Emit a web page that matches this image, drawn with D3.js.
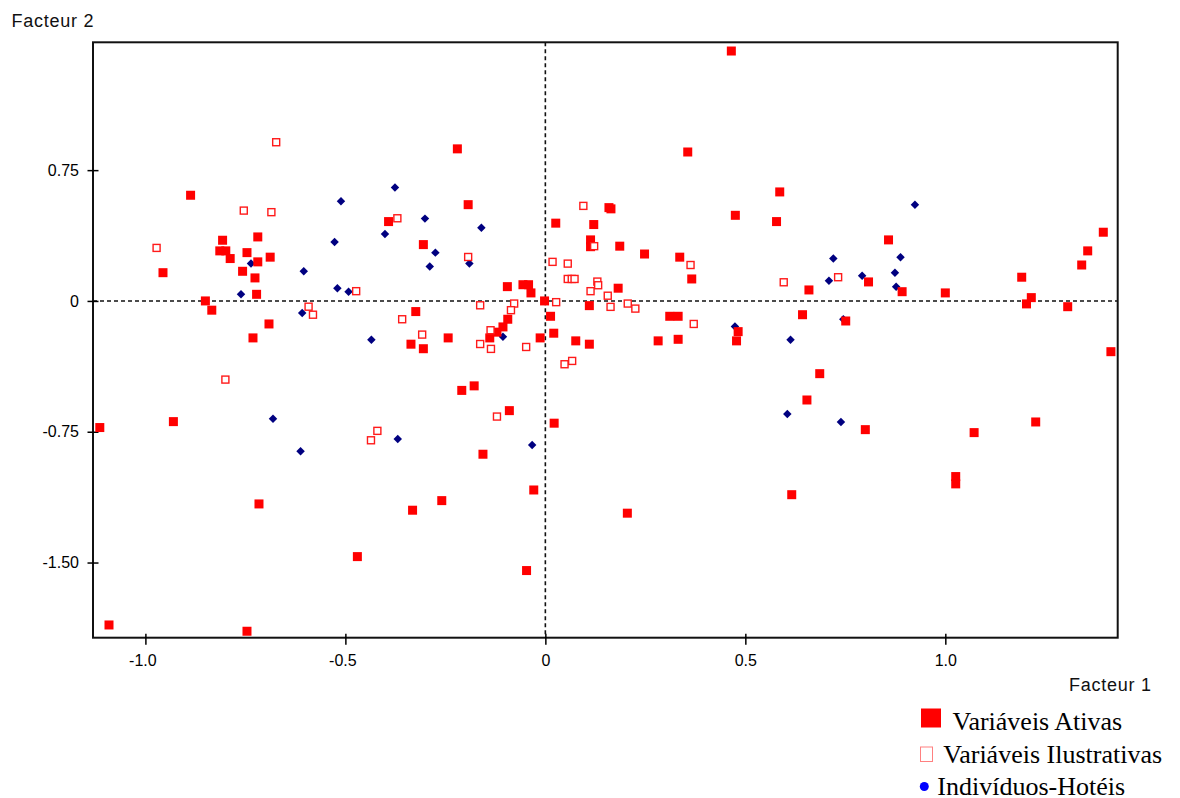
<!DOCTYPE html>
<html>
<head>
	<meta charset="utf-8">
	<title>Facteur 1 x Facteur 2</title>
	<script src="https://cdnjs.cloudflare.com/ajax/libs/d3/7.8.5/d3.min.js"></script>
	<style type="text/css">
		body {
			margin: 0;
			background: #fff;
		}
		.axis text {
			font-family: "Liberation Sans", Arial, sans-serif;
			font-size: 16px;
			fill: #000;
		}
		.axis line {
			stroke: #000;
			stroke-width: 1.5px;
		}
		.factor {
			font-family: "Liberation Sans", Arial, sans-serif;
			font-size: 18px;
			letter-spacing: 0.75px;
			fill: #111;
		}
		.legend text {
			font-family: "Liberation Serif", "Times New Roman", serif;
			font-size: 26px;
			fill: #000;
		}
	</style>
</head>
<body>
	<script type="text/javascript">
		// Variáveis Ativas (filled red squares)
		var ativasX = [-0.887, -0.807, -0.719, -0.814, -0.799, -0.746, -0.788, -0.688, -0.719, -0.956,
			-0.757, -0.726, -0.722, -0.850, -0.834, -0.691, -0.731, -0.220, -0.193, -0.392,
			-0.305, 0.026, -0.095, -0.056, -0.042, -0.036, -0.002, -0.324, -0.094, 0.013,
			-0.106, -0.121, -0.139, -0.336, -0.305, -0.243, -0.013, 0.021, -0.209, -0.178,
			0.356, 0.586, 0.159, 0.164, 0.475, 0.578, 0.121, 0.113, 0.113, 0.186,
			0.248, 0.336, 0.366, 0.182, 0.110, 0.659, 0.311, 0.332, 0.643, 0.482,
			0.478, 0.076, 0.110, 0.282, 0.332, 0.686, 0.858, 0.808, 0.892, 1.000,
			1.191, 1.215, 1.203, 1.306, 1.341, 1.356, 1.395, 1.414, 0.751, 0.654,
			0.022, 0.800, 1.072, 1.226, 1.026, 1.026, 0.616, 0.205, 0.465, -0.090,
			-1.114, -0.930, -0.156, -0.029, -0.716, -0.332, -0.259, -0.470, -0.047, -1.091,
			-0.746];
		var ativasY = [0.606, 0.348, 0.367, 0.287, 0.287, 0.277, 0.243, 0.251, 0.224, 0.162,
			0.170, 0.132, 0.038, 0.000, -0.053, -0.132, -0.212, 0.872, 0.552, 0.455,
			0.323, 0.446, 0.082, 0.093, 0.093, 0.046, 0.000, -0.061, -0.105, -0.088,
			-0.149, -0.179, -0.212, -0.248, -0.274, -0.212, -0.212, -0.185, -0.513, -0.487,
			0.854, 0.625, 0.535, 0.528, 0.491, 0.455, 0.438, 0.350, 0.311, 0.314,
			0.269, 0.251, 0.126, 0.073, -0.027, 0.063, -0.088, -0.088, -0.079, -0.176,
			-0.229, -0.229, -0.248, -0.229, -0.220, -0.417, 0.350, 0.109, 0.053, 0.046,
			0.136, 0.019, -0.017, -0.033, 0.206, 0.287, 0.394, -0.291, -0.115, -0.568,
			-0.701, -0.738, -0.755, -0.694, -1.007, -1.049, -1.111, -1.217, 1.433, -0.629,
			-0.726, -0.692, -0.879, -1.084, -1.164, -1.200, -1.145, -1.466, -1.546, -1.858,
			-1.894];

		// Variáveis Ilustrativas (open red squares)
		var ilustX = [-0.673, -0.754, -0.685, -0.972, -0.473, -0.592, -0.581, -0.800, -0.370, -0.193,
			0.018, -0.163, -0.078, 0.027, -0.358, -0.086, -0.137, -0.308, -0.163, -0.136,
			-0.048, 0.095, 0.122, 0.363, 0.056, 0.056, 0.066, 0.073, 0.130, 0.132,
			0.113, 0.156, 0.163, 0.206, 0.225, 0.596, 0.371, 0.048, 0.067, 0.732,
			-0.121, -0.420, -0.436];
		var ilustY = [0.910, 0.518, 0.509, 0.304, 0.056, -0.033, -0.079, -0.451, 0.474, 0.252,
			0.224, -0.025, -0.015, -0.007, -0.105, -0.053, -0.168, -0.193, -0.247, -0.275,
			-0.264, 0.545, 0.314, 0.206, 0.214, 0.126, 0.126, 0.126, 0.111, 0.090,
			0.056, 0.030, -0.034, -0.015, -0.044, 0.107, -0.132, -0.363, -0.344, 0.136,
			-0.663, -0.745, -0.799];

		// Indivíduos-Hotéis (navy diamonds)
		var hoteisX = [-0.511, -0.527, -0.736, -0.604, -0.520, -0.492, -0.761, -0.608, -0.435, -0.376,
			-0.301, -0.160, -0.401, -0.275, -0.289, -0.190, -0.106, 0.709, 0.720, 0.924,
			0.888, 0.792, 0.874, 0.877, 0.745, 0.474, 0.613, 0.605, 0.739, -0.681,
			-0.369, -0.612, -0.033];
		var hoteisY = [0.572, 0.338, 0.214, 0.170, 0.073, 0.053, 0.038, -0.069, -0.222, 0.650,
			0.472, 0.420, 0.384, 0.277, 0.197, 0.214, -0.206, 0.116, 0.243, 0.552,
			0.251, 0.145, 0.161, 0.082, -0.105, -0.147, -0.222, -0.648, -0.694, -0.675,
			-0.791, -0.862, -0.826];

		var xTicks = [-1.0, -0.5, 0, 0.5, 1.0];
		var xTickLabels = ["-1.0", "-0.5", "0", "0.5", "1.0"];
		var yTicks = [0.75, 0, -0.75, -1.5];
		var yTickLabels = ["0.75", "0", "-0.75", "-1.50"];
		var legendLabels = ["Variáveis Ativas", "Variáveis Ilustrativas", "Indivíduos-Hotéis"];

		var W = 1180, H = 798;
		var plotL = 93, plotR = 1117.7, plotT = 42.3, plotB = 637.7;

		var svg = d3.select("body")
			.append("svg")
				.attr("width", W)
				.attr("height", H);

		var x = d3.scaleLinear()
			.domain([-1.131, 1.431])
			.range([plotL, plotR]);

		var y = d3.scaleLinear()
			.domain([-1.931, 1.483])
			.range([plotB, plotT]);

		// frame
		svg.append("rect")
			.attr("x", plotL)
			.attr("y", plotT)
			.attr("width", plotR - plotL)
			.attr("height", plotB - plotT)
			.attr("fill", "none")
			.attr("stroke", "#111")
			.attr("stroke-width", 2);

		// zero lines
		svg.append("line")
			.attr("x1", plotL).attr("x2", plotR)
			.attr("y1", y(0)).attr("y2", y(0))
			.attr("stroke", "#111")
			.attr("stroke-width", 1.6)
			.attr("stroke-dasharray", "4,3");

		svg.append("line")
			.attr("x1", x(0)).attr("x2", x(0))
			.attr("y1", plotT).attr("y2", plotB)
			.attr("stroke", "#111")
			.attr("stroke-width", 1.6)
			.attr("stroke-dasharray", "4,3");

		// axes
		var xAxis = d3.axisBottom(x)
			.tickValues(xTicks)
			.tickFormat(function(d, i) { return xTickLabels[i]; })
			.tickSize(11)
			.tickPadding(10);

		var gx = svg.append("g")
			.attr("class", "x axis")
			.attr("transform", "translate(0," + (plotB - 4) + ")")
			.call(xAxis);
		gx.select(".domain").remove();
		gx.selectAll("text")
			.attr("dx", function(d) { return d < 0 ? -3 : 0; });

		var yAxis = d3.axisLeft(y)
			.tickValues(yTicks)
			.tickFormat(function(d, i) { return yTickLabels[i]; })
			.tickSize(11)
			.tickPadding(8.5);

		var gy = svg.append("g")
			.attr("class", "y axis")
			.attr("transform", "translate(" + (plotL + 5.5) + ",0)")
			.call(yAxis);
		gy.select(".domain").remove();

		// points: hotels first, then active, then illustrative on top
		var hoteis = hoteisX.map(function(v, i) { return {x: v, y: hoteisY[i]}; });
		var ativas = ativasX.map(function(v, i) { return {x: v, y: ativasY[i]}; });
		var ilust = ilustX.map(function(v, i) { return {x: v, y: ilustY[i]}; });

		var diamond = d3.symbol().type(d3.symbolSquare).size(36);

		svg.append("g")
			.selectAll("path.hotel")
			.data(hoteis)
			.enter()
			.append("path")
				.attr("class", "hotel")
				.attr("d", diamond)
				.attr("transform", function(d) {
					return "translate(" + x(d.x) + "," + y(d.y) + ") rotate(45)";
				})
				.attr("fill", "#000080");

		svg.append("g")
			.selectAll("rect.ativa")
			.data(ativas)
			.enter()
			.append("rect")
				.attr("class", "ativa")
				.attr("x", function(d) { return x(d.x) - 4.5; })
				.attr("y", function(d) { return y(d.y) - 4.5; })
				.attr("width", 9)
				.attr("height", 9)
				.attr("fill", "#ff0000");

		svg.append("g")
			.selectAll("rect.ilust")
			.data(ilust)
			.enter()
			.append("rect")
				.attr("class", "ilust")
				.attr("x", function(d) { return x(d.x) - 3.5; })
				.attr("y", function(d) { return y(d.y) - 3.5; })
				.attr("width", 7)
				.attr("height", 7)
				.attr("fill", "#fff")
				.attr("stroke", "#ff1a1a")
				.attr("stroke-width", 1.4);

		// factor labels
		svg.append("text")
			.attr("class", "factor")
			.attr("x", 11.5)
			.attr("y", 27)
			.text("Facteur 2");

		svg.append("text")
			.attr("class", "factor")
			.attr("x", 1069)
			.attr("y", 691)
			.text("Facteur 1");

		// legend
		var legend = svg.append("g").attr("class", "legend");

		legend.append("rect")
			.attr("x", 921).attr("y", 708.5)
			.attr("width", 20).attr("height", 19)
			.attr("fill", "#ff0000");
		legend.append("text")
			.attr("x", 952.5).attr("y", 729.5)
			.text(legendLabels[0]);

		legend.append("rect")
			.attr("x", 920.5).attr("y", 747)
			.attr("width", 12).attr("height", 14.5)
			.attr("fill", "#fff")
			.attr("stroke", "#ff8080")
			.attr("stroke-width", 1);
		legend.append("text")
			.attr("x", 943.3).attr("y", 762.5)
			.text(legendLabels[1]);

		legend.append("circle")
			.attr("cx", 924.3).attr("cy", 786.5)
			.attr("r", 4.5)
			.attr("fill", "#0000ff");
		legend.append("text")
			.attr("x", 937.3).attr("y", 794.5)
			.text(legendLabels[2]);
	</script>
</body>
</html>
